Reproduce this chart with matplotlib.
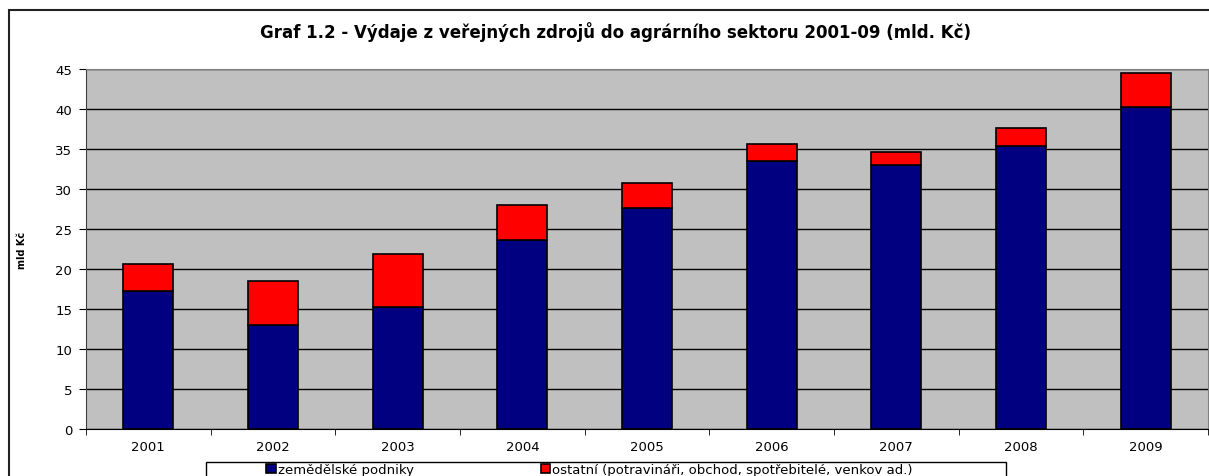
import numpy as np
import matplotlib
matplotlib.use("Agg")
import matplotlib.pyplot as plt
from matplotlib.patches import Rectangle

plt.rcParams['font.family'] = ['DejaVu Sans']

# data (mld Kč)
years = ['2001', '2002', '2003', '2004', '2005', '2006', '2007', '2008', '2009']
zemedelske = [17.3, 13.0, 15.25, 23.6, 27.6, 33.5, 33.0, 35.4, 40.3]
celkem = [20.6, 18.5, 21.9, 28.0, 30.75, 35.6, 34.6, 37.6, 44.5]
ostatni = [c - z for c, z in zip(celkem, zemedelske)]

W, H = 1209, 477
fig = plt.figure(figsize=(W / 100, H / 100), dpi=100)
fig.patch.set_facecolor('white')

# outer chart border (cut off on the right and bottom)
fig.add_artist(Rectangle((9 / W, -0.1), 1.2, 1 - 11 / H + 0.1, transform=fig.transFigure,
                         fill=False, edgecolor='#222222', linewidth=1.5))

ax = fig.add_axes([86 / W, 1 - 430 / H, (1208 - 86) / W, 360 / H])
ax.set_facecolor('#C0C0C0')

x = np.arange(len(years))
b1 = ax.bar(x, zemedelske, width=0.4, color='#000080', edgecolor='black', linewidth=1.2,
            label='zemědělské podniky', zorder=3)
b2 = ax.bar(x, ostatni, width=0.4, bottom=zemedelske, color='#FF0000', edgecolor='black',
            linewidth=1.2, label='ostatní (potravináři, obchod, spotřebitelé, venkov ad.)', zorder=3)

ax.set_xlim(-0.5, len(years) - 0.5)
ax.set_ylim(0, 45)
ax.set_yticks(np.arange(0, 46, 5))
ax.yaxis.grid(True, color='black', linewidth=1)
ax.set_axisbelow(True)

ax.set_xticks(x)
ax.set_xticklabels(years, fontsize=9.5)
ax.set_xticks(np.arange(-0.5, len(years), 1), minor=True)
ax.tick_params(axis='x', which='major', length=0, pad=8)
ax.tick_params(axis='x', which='minor', length=4, direction='out', color='black')
ax.tick_params(axis='y', labelsize=9.5, length=5, direction='out', color='black', pad=5)

for s in ['top', 'right']:
    ax.spines[s].set_color('#808080')
ax.spines['left'].set_color('#404040')
ax.spines['bottom'].set_color('black')

ax.set_ylabel('mld Kč', fontsize=7, fontweight='bold', labelpad=20)

fig.text(615 / W, 1 - 32 / H, 'Graf 1.2 - Výdaje z veřejných zdrojů do agrárního sektoru 2001-09 (mld. Kč)',
         ha='center', va='center', fontsize=12, fontweight='bold')

# legend box (cut off at the bottom of the image)
fig.add_artist(Rectangle((206 / W, -0.1), (1006 - 206) / W, 0.1 + 1 - 463 / H,
                         transform=fig.transFigure, fill=False, edgecolor='black', linewidth=1))
leg = fig.legend(handles=[b1, b2], loc='upper left', bbox_to_anchor=(266 / W, 1 - 464 / H),
                 ncol=2, frameon=False, fontsize=9.5, handlelength=0.75, handleheight=0.75,
                 handletextpad=0.15, columnspacing=9.6, borderaxespad=0, borderpad=0)

fig.savefig('out.png', dpi=100)
